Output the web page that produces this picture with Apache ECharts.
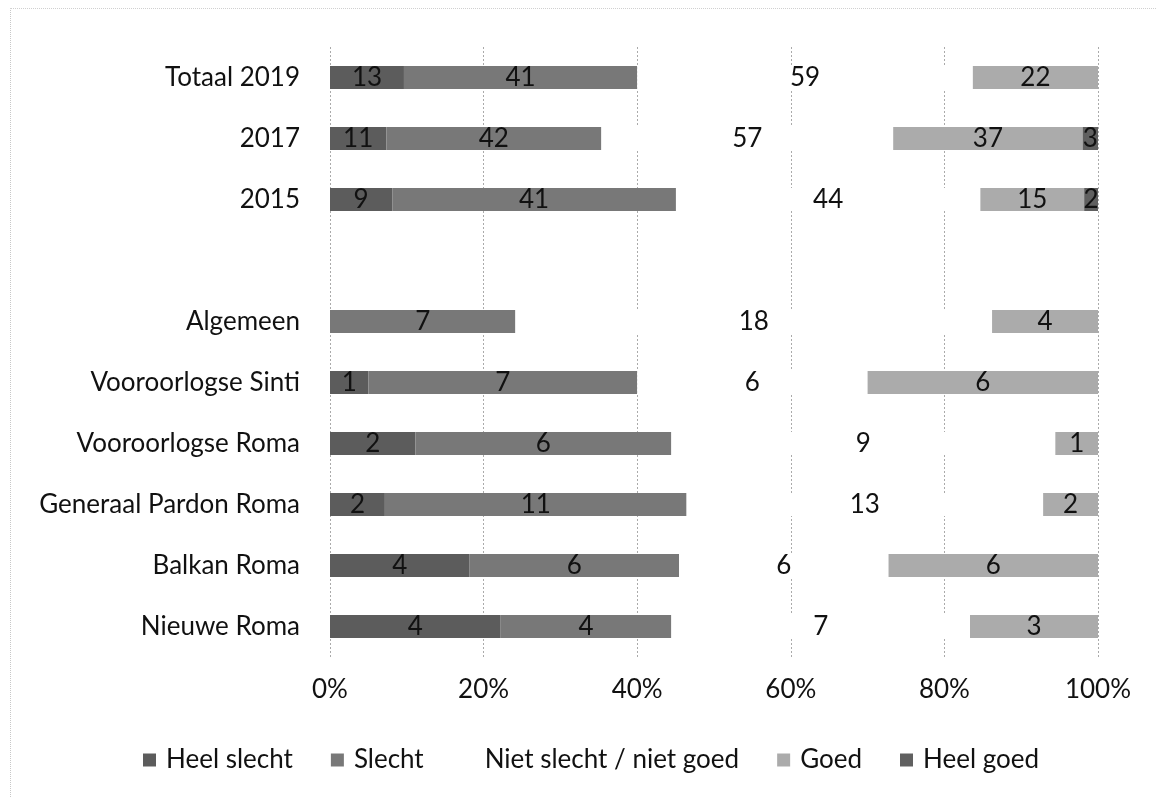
<!DOCTYPE html>
<html>
<head>
<meta charset="utf-8">
<script src="https://cdn.jsdelivr.net/npm/echarts@6/dist/echarts.min.js"></script>
<style>
  html, body { margin: 0; padding: 0; background: #fff; }
  #chart { width: 1156px; height: 797px; }
  .frame {
    position: absolute; left: 10px; top: 8px; right: 0; bottom: 0;
    border-top: 1px dotted #d0d0d0; border-left: 1px dotted #c8c8c8;
    pointer-events: none;
  }
</style>
</head>
<body>
<div id="chart"></div>
<div class="frame"></div>
<script>
const categories = [
  'Totaal 2019', '2017', '2015', '',
  'Algemeen', 'Vooroorlogse Sinti', 'Vooroorlogse Roma',
  'Generaal Pardon Roma', 'Balkan Roma', 'Nieuwe Roma'
]
const heelSlecht = [13, 11, 9, null, 0, 1, 2, 2, 4, 4]
const slecht = [41, 42, 41, null, 7, 7, 6, 11, 6, 4]
const nietSlechtNietGoed = [59, 57, 44, null, 18, 6, 9, 13, 6, 7]
const goed = [22, 37, 15, null, 4, 6, 1, 2, 6, 3]
const heelGoed = [0, 3, 2, null, 0, 0, 0, 0, 0, 0]
const xTicks = [0, 20, 40, 60, 80, 100]

const seriesDefs = [
  { name: 'Heel slecht', data: heelSlecht, color: '#5c5c5c' },
  { name: 'Slecht', data: slecht, color: '#787878' },
  { name: 'Niet slecht / niet goed', data: nietSlechtNietGoed, color: '#ffffff' },
  { name: 'Goed', data: goed, color: '#ababab' },
  { name: 'Heel goed', data: heelGoed, color: '#606060' }
]

// bars are shares of the row total, labels show the raw counts
const totals = categories.map((_, i) =>
  seriesDefs.reduce((sum, s) => sum + (s.data[i] || 0), 0)
)

const font = 'Lato, "Open Sans", sans-serif'
const fs = 26
const chart = echarts.init(document.getElementById('chart'))

chart.setOption({
  animation: false,
  textStyle: { fontFamily: font },
  grid: { left: 330, right: 58, top: 47, bottom: 140 },
  legend: {
    top: 742,
    left: 138,
    icon: 'rect',
    itemWidth: 13,
    itemHeight: 13,
    itemGap: 38,
    textStyle: { fontSize: fs, color: '#111', fontFamily: font, padding: [0, 0, 0, 5] },
    data: seriesDefs.map((s) => s.name)
  },
  xAxis: {
    type: 'value',
    min: 0,
    max: 100,
    interval: 20,
    axisLine: { show: false },
    axisTick: { show: false },
    axisLabel: {
      formatter: (v) => (xTicks.includes(v) ? v + '%' : ''),
      fontSize: fs,
      color: '#111',
      margin: 20
    },
    splitLine: { show: true, lineStyle: { color: '#aaaaaa', type: [2, 2], width: 1 } }
  },
  yAxis: {
    type: 'category',
    inverse: true,
    data: categories,
    axisLine: { show: false },
    axisTick: { show: false },
    axisLabel: { fontSize: fs, color: '#111', margin: 30 }
  },
  series: seriesDefs.map((s) => ({
    name: s.name,
    type: 'bar',
    stack: 'total',
    barWidth: 23,
    itemStyle: { color: s.color },
    label: {
      show: true,
      position: 'inside',
      fontSize: fs,
      color: '#111',
      formatter: (p) => {
        const raw = s.data[p.dataIndex]
        return raw ? String(raw) : ''
      }
    },
    data: s.data.map((v, i) => (v == null ? null : (v / totals[i]) * 100))
  }))
})
</script>
</body>
</html>
